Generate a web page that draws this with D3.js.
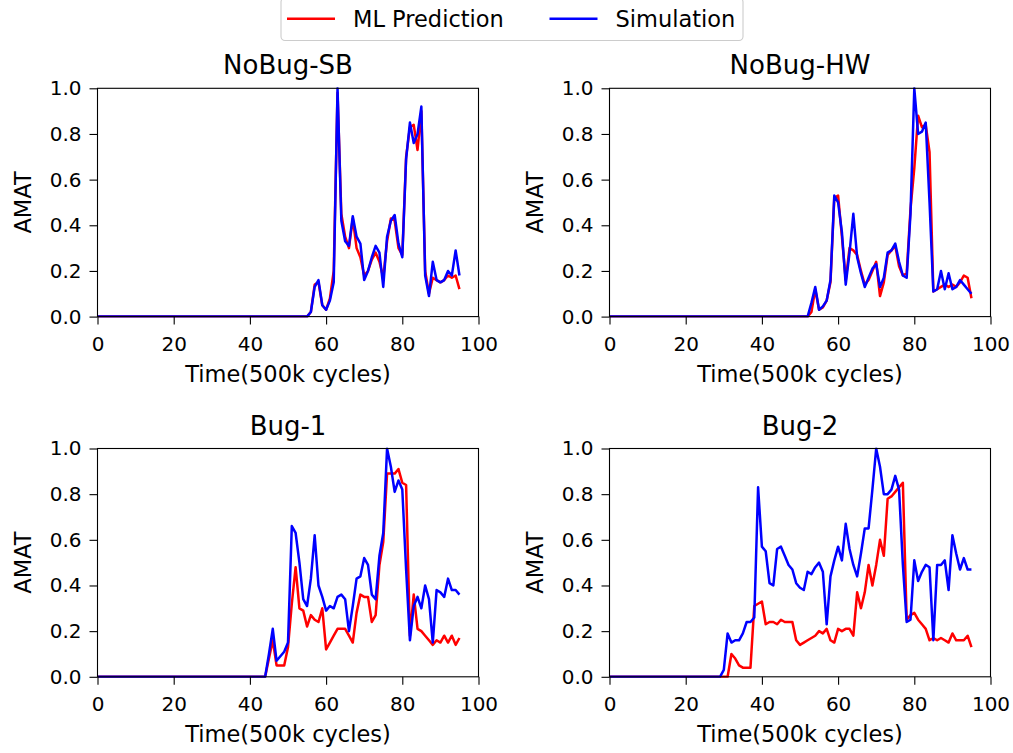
<!DOCTYPE html>
<html>
<head>
<meta charset="utf-8">
<script src="https://cdn.jsdelivr.net/npm/d3@7"></script>
<style>
  body { margin: 0; background: #fff; }
  svg text { font-family: "DejaVu Sans", sans-serif; fill: #000; }
</style>
</head>
<body>
<svg id="chart" width="1013" height="753"></svg>
<script>
// panel titles and legend labels
let panelTitles = ["NoBug-SB", "NoBug-HW", "Bug-1", "Bug-2"];
let seriesNames = ["ML Prediction", "Simulation"];
let xTicks = [0, 20, 40, 60, 80, 100];
let yTicks = [0.0, 0.2, 0.4, 0.6, 0.8, 1.0];

// one value per time step (500k cycles), t = 0..95
let sbPred = [0,0,0,0,0,0,0,0,0,0, 0,0,0,0,0,0,0,0,0,0, 0,0,0,0,0,0,0,0,0,0,
    0,0,0,0,0,0,0,0,0,0, 0,0,0,0,0,0,0,0,0,0, 0,0,0,0,0,0,
    0.02,0.14,0.15,0.05,0.03,0.08,0.2,0.98,0.45,0.35,
    0.3,0.43,0.3,0.26,0.18,0.2,0.25,0.28,0.24,0.17,
    0.33,0.43,0.42,0.3,0.27,0.7,0.83,0.84,0.73,0.9,
    0.2,0.1,0.17,0.16,0.15,0.16,0.18,0.17,0.18,0.12];
let sbSim = [0,0,0,0,0,0,0,0,0,0, 0,0,0,0,0,0,0,0,0,0, 0,0,0,0,0,0,0,0,0,0,
    0,0,0,0,0,0,0,0,0,0, 0,0,0,0,0,0,0,0,0,0, 0,0,0,0,0,0,
    0.02,0.13,0.16,0.05,0.03,0.07,0.15,1.0,0.42,0.33,
    0.31,0.44,0.35,0.32,0.16,0.2,0.26,0.31,0.28,0.13,
    0.35,0.42,0.445,0.32,0.26,0.69,0.85,0.76,0.8,0.92,
    0.18,0.09,0.24,0.16,0.15,0.16,0.2,0.18,0.29,0.18];

let hwPred = [0,0,0,0,0,0,0,0,0,0, 0,0,0,0,0,0,0,0,0,0, 0,0,0,0,0,0,0,0,0,0,
    0,0,0,0,0,0,0,0,0,0, 0,0,0,0,0,0,0,0,0,0, 0,0,0,
    0.02,0.12,0.03,0.04,0.07,0.15,0.52,0.53,0.35,0.16,0.3,
    0.29,0.27,0.2,0.14,0.16,0.2,0.24,0.09,0.15,0.27,
    0.29,0.31,0.22,0.18,0.19,0.47,0.65,0.88,0.83,0.84,
    0.72,0.11,0.12,0.13,0.14,0.13,0.14,0.13,0.15,0.18,0.17,0.08];
let hwSim = [0,0,0,0,0,0,0,0,0,0, 0,0,0,0,0,0,0,0,0,0, 0,0,0,0,0,0,0,0,0,0,
    0,0,0,0,0,0,0,0,0,0, 0,0,0,0,0,0,0,0,0,0, 0,0,0,
    0.06,0.13,0.03,0.045,0.07,0.16,0.53,0.5,0.37,0.14,0.28,
    0.45,0.26,0.19,0.13,0.17,0.21,0.23,0.13,0.17,0.28,
    0.29,0.32,0.24,0.18,0.17,0.45,1.0,0.8,0.81,0.85,
    0.5,0.11,0.12,0.2,0.12,0.19,0.12,0.13,0.16,0.14,0.12,0.1];

let bug1Pred = [0,0,0,0,0,0,0,0,0,0, 0,0,0,0,0,0,0,0,0,0, 0,0,0,0,0,0,0,0,0,0,
    0,0,0,0,0,0,0,0,0,0, 0,0,0,0,0,
    0.08,0.16,0.05,0.05,0.05,0.13,0.32,0.48,0.3,0.29,
    0.22,0.27,0.25,0.24,0.3,0.12,0.15,0.18,0.21,0.21,
    0.21,0.18,0.15,0.28,0.36,0.35,0.35,0.24,0.27,0.49,
    0.59,0.89,0.89,0.89,0.91,0.85,0.84,0.18,0.36,0.21,
    0.2,0.18,0.16,0.14,0.16,0.15,0.18,0.15,0.18,0.14,0.17];
let bug1Sim = [0,0,0,0,0,0,0,0,0,0, 0,0,0,0,0,0,0,0,0,0, 0,0,0,0,0,0,0,0,0,0,
    0,0,0,0,0,0,0,0,0,0, 0,0,0,0,0,
    0.1,0.21,0.07,0.09,0.11,0.15,0.66,0.63,0.5,0.34,
    0.31,0.43,0.62,0.4,0.35,0.29,0.31,0.3,0.35,0.36,
    0.34,0.2,0.31,0.43,0.44,0.52,0.49,0.36,0.34,0.53,
    0.63,1.0,0.92,0.81,0.86,0.82,0.47,0.16,0.31,0.35,
    0.3,0.4,0.34,0.15,0.38,0.37,0.35,0.43,0.38,0.38,0.36];

let bug2Pred = [0,0,0,0,0,0,0,0,0,0, 0,0,0,0,0,0,0,0,0,0, 0,0,0,0,0,0,0,0,0,0,
    0,0,
    0.1,0.08,0.05,0.04,0.04,0.04,0.31,0.32,0.33,0.23,
    0.24,0.24,0.23,0.25,0.24,0.24,0.24,0.16,0.14,0.15,
    0.16,0.17,0.18,0.2,0.19,0.21,0.16,0.15,0.21,0.2,
    0.21,0.21,0.18,0.37,0.3,0.37,0.49,0.4,0.49,0.6,
    0.53,0.78,0.79,0.81,0.83,0.85,0.25,0.27,0.28,0.25,
    0.23,0.21,0.16,0.17,0.16,0.17,0.16,0.15,0.19,0.16,
    0.16,0.16,0.18,0.13];
let bug2Sim = [0,0,0,0,0,0,0,0,0,0, 0,0,0,0,0,0,0,0,0,0, 0,0,0,0,0,0,0,0,0,0,
    0.03,0.19,
    0.15,0.16,0.16,0.19,0.24,0.24,0.26,0.83,0.57,0.55,
    0.41,0.4,0.56,0.57,0.53,0.49,0.47,0.41,0.39,0.38,
    0.46,0.45,0.48,0.5,0.46,0.23,0.44,0.51,0.57,0.51,
    0.67,0.56,0.49,0.44,0.54,0.65,0.65,0.82,1.0,0.92,
    0.8,0.8,0.82,0.88,0.82,0.49,0.24,0.25,0.51,0.42,
    0.46,0.49,0.48,0.16,0.49,0.49,0.51,0.38,0.62,0.54,
    0.47,0.52,0.47,0.47];

let predSeries = [sbPred, hwPred, bug1Pred, bug2Pred];
let simSeries = [sbSim, hwSim, bug1Sim, bug2Sim];
let seriesColors = ["#ff0000", "#0000ff"];

const svg = d3.select("#chart");

// axes boxes (left, top) for the 2x2 grid
const panelW = 381, panelH = 228.3;
const lefts = [97.5, 609.5, 97.5, 609.5];
const tops = [88.3, 88.3, 448.5, 448.5];

function drawPanel(i) {
    const x = d3.scaleLinear().domain([0, 100]).range([0, panelW]);
    const y = d3.scaleLinear().domain([0, 1]).range([panelH, 0]);
    const g = svg.append("g").attr("transform", `translate(${lefts[i]},${tops[i]})`);

    g.append("clipPath").attr("id", "clip" + i)
        .append("rect").attr("x", 0).attr("y", -1).attr("width", panelW).attr("height", panelH + 2);

    const line = d3.line()
        .x((d, j) => x(j))
        .y(d => y(d));

    const lines = g.append("g").attr("clip-path", `url(#clip${i})`);
    [predSeries[i], simSeries[i]].forEach((s, k) => {
        lines.append("path")
            .datum(s)
            .attr("fill", "none")
            .attr("stroke", seriesColors[k])
            .attr("stroke-width", 2.5)
            .attr("stroke-linejoin", "round")
            .attr("d", line);
    });

    const xAxis = g.append("g")
        .attr("transform", `translate(0,${panelH})`)
        .call(d3.axisBottom(x).tickValues(xTicks).tickSize(8).tickPadding(12).tickFormat(d3.format("d")));
    const yAxis = g.append("g")
        .call(d3.axisLeft(y).tickValues(yTicks).tickSize(8).tickPadding(8).tickFormat(d3.format(".1f")));
    [xAxis, yAxis].forEach(a => {
        a.select(".domain").remove();
        a.selectAll(".tick line").attr("stroke", "#000").attr("stroke-width", 1.1);
        a.selectAll(".tick text").attr("font-size", 20).attr("fill", "#000")
            .style("font-family", "'DejaVu Sans', sans-serif");
    });

    // frame
    g.append("rect")
        .attr("width", panelW).attr("height", panelH)
        .attr("fill", "none").attr("stroke", "#000").attr("stroke-width", 1.1);

    g.append("text")
        .attr("x", panelW / 2).attr("y", -14)
        .attr("text-anchor", "middle").attr("font-size", 26)
        .text(panelTitles[i]);

    g.append("text")
        .attr("x", panelW / 2).attr("y", panelH + 65.5)
        .attr("text-anchor", "middle").attr("font-size", 22.5)
        .text("Time(500k cycles)");

    g.append("text")
        .attr("transform", `translate(-66.5,${panelH / 2}) rotate(-90)`)
        .attr("text-anchor", "middle").attr("font-size", 22.5)
        .text("AMAT");
}

for (let i = 0; i < 4; i++) drawPanel(i);

// legend on top
const legend = svg.append("g");
legend.append("rect")
    .attr("x", 281).attr("y", -2).attr("width", 462).attr("height", 42.5)
    .attr("rx", 4).attr("fill", "#fff").attr("fill-opacity", 0.8)
    .attr("stroke", "#cccccc").attr("stroke-width", 1.1);
const legendX = [287, 549.5];
seriesNames.forEach((name, k) => {
    legend.append("line")
        .attr("x1", legendX[k]).attr("x2", legendX[k] + 48)
        .attr("y1", 18.7).attr("y2", 18.7)
        .attr("stroke", seriesColors[k]).attr("stroke-width", 2.5);
    legend.append("text")
        .attr("x", legendX[k] + 66).attr("y", 27.3)
        .attr("font-size", 22.5)
        .text(name);
});
</script>
</body>
</html>
